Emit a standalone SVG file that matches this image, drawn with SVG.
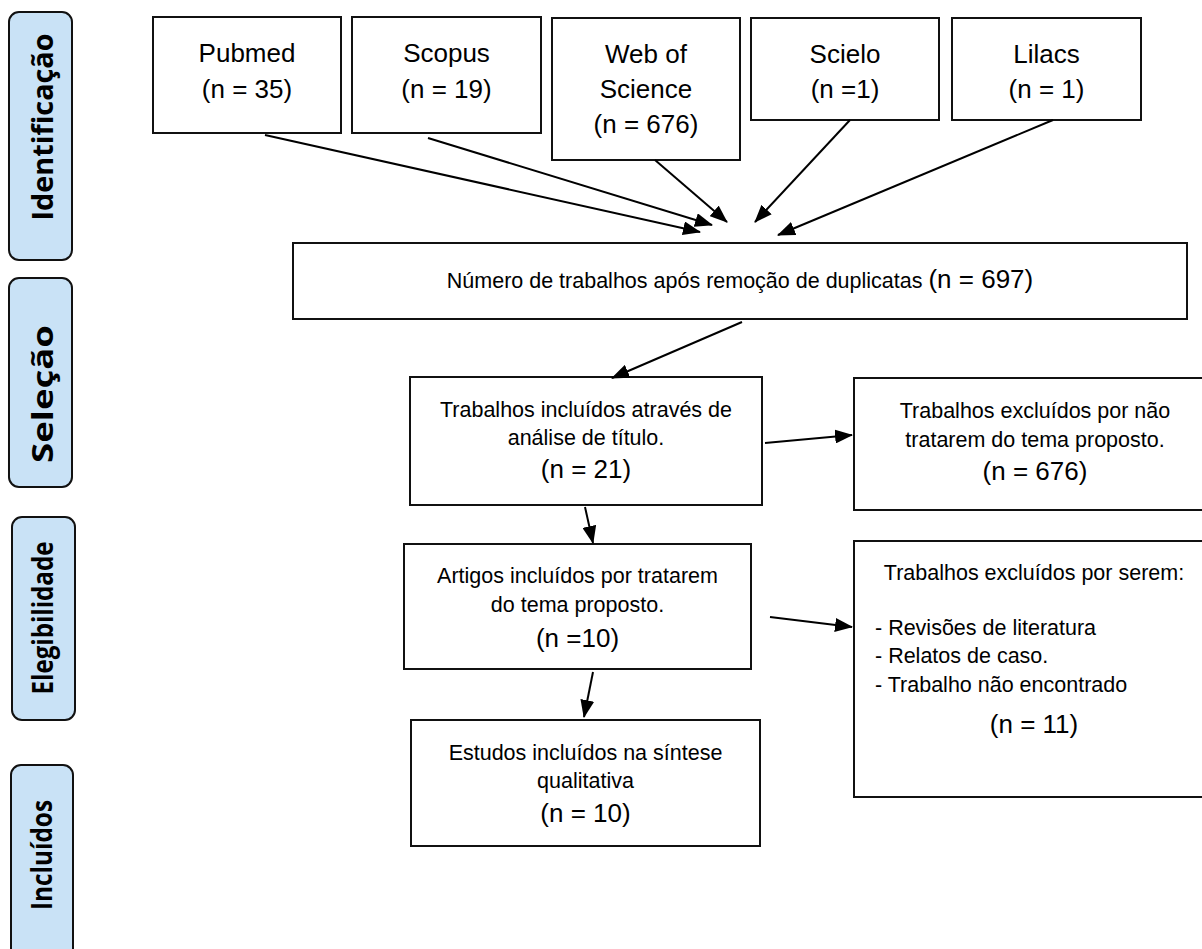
<svg xmlns="http://www.w3.org/2000/svg" width="1202" height="949" viewBox="0 0 1202 949">
  <style>
    .box { fill: #fff; stroke: #111; stroke-width: 2; }
    .phase { fill: #C9E2F6; stroke: #111; stroke-width: 2; }
    .phase-t { font-family: "Open Sans", "Noto Sans", sans-serif; font-weight: bold; font-size: 28px; fill: #000; text-anchor: middle; }
    .big { font-family: "Liberation Sans", Arial, sans-serif; font-size: 26px; fill: #000; text-anchor: middle; }
    .sm { font-family: "Liberation Sans", Arial, sans-serif; font-size: 21.5px; fill: #000; text-anchor: middle; }
    .lst { font-family: "Liberation Sans", Arial, sans-serif; font-size: 21.5px; fill: #000; }
    .conn { stroke: #000; stroke-width: 2; fill: none; marker-end: url(#ah); }
  </style>
  <defs>
    <marker id="ah" markerWidth="18" markerHeight="14" refX="17" refY="7" orient="auto" markerUnits="userSpaceOnUse">
      <path d="M0,0 L18,7 L0,14 z" fill="#000"/>
    </marker>
  </defs>
  <rect width="1202" height="949" fill="#fff"/>

  <g id="phase-identificacao">
    <rect class="phase" x="9" y="12" width="63" height="248" rx="10"/>
    <text class="phase-t" transform="translate(53,127) rotate(-90)" textLength="187" lengthAdjust="spacingAndGlyphs">Identificação</text>
  </g>
  <g id="phase-selecao">
    <rect class="phase" x="9" y="278" width="63" height="209" rx="10"/>
    <text class="phase-t" transform="translate(53,394) rotate(-90)" textLength="138" lengthAdjust="spacingAndGlyphs">Seleção</text>
  </g>
  <g id="phase-elegibilidade">
    <rect class="phase" x="12" y="517" width="63" height="203" rx="10"/>
    <text class="phase-t" transform="translate(53,618) rotate(-90)" textLength="153" lengthAdjust="spacingAndGlyphs">Elegibilidade</text>
  </g>
  <g id="phase-incluidos">
    <rect class="phase" x="11" y="765" width="62" height="200" rx="10"/>
    <text class="phase-t" transform="translate(52,855) rotate(-90)" textLength="110" lengthAdjust="spacingAndGlyphs">Incluídos</text>
  </g>

  <g id="pubmed">
    <rect class="box" x="153" y="17" width="188" height="116"/>
    <text class="big" x="247" y="62">Pubmed</text>
    <text class="big" x="247" y="98">(n = 35)</text>
  </g>
  <g id="scopus">
    <rect class="box" x="352" y="17" width="189" height="116"/>
    <text class="big" x="446.5" y="62">Scopus</text>
    <text class="big" x="446.5" y="98">(n = 19)</text>
  </g>
  <g id="wos">
    <rect class="box" x="552" y="18" width="188" height="142"/>
    <text class="big" x="646" y="63">Web of</text>
    <text class="big" x="646" y="98">Science</text>
    <text class="big" x="646" y="133">(n = 676)</text>
  </g>
  <g id="scielo">
    <rect class="box" x="751" y="18" width="188" height="102"/>
    <text class="big" x="845" y="63">Scielo</text>
    <text class="big" x="845" y="98">(n =1)</text>
  </g>
  <g id="lilacs">
    <rect class="box" x="952" y="18" width="189" height="102"/>
    <text class="big" x="1046.5" y="63">Lilacs</text>
    <text class="big" x="1046.5" y="98">(n = 1)</text>
  </g>

  <g id="duplicatas">
    <rect class="box" x="293" y="243" width="894" height="76"/>
    <text x="740" y="288" text-anchor="middle" font-family="Liberation Sans, Arial, sans-serif"><tspan font-size="21.5">Número de trabalhos após remoção de duplicatas </tspan><tspan font-size="26">(n = 697)</tspan></text>
  </g>

  <g id="titulo">
    <rect class="box" x="410" y="377" width="352" height="128"/>
    <text class="sm" x="586" y="417">Trabalhos incluídos através de</text>
    <text class="sm" x="586" y="445">análise de título.</text>
    <text class="big" x="586" y="478">(n = 21)</text>
  </g>

  <g id="excluidos-tema">
    <rect class="box" x="854" y="378" width="362" height="132"/>
    <text class="sm" x="1035" y="418">Trabalhos excluídos por não</text>
    <text class="sm" x="1035" y="447">tratarem do tema proposto.</text>
    <text class="big" x="1035" y="480">(n = 676)</text>
  </g>

  <g id="artigos">
    <rect class="box" x="404" y="544" width="347" height="125"/>
    <text class="sm" x="577.5" y="583">Artigos incluídos por tratarem</text>
    <text class="sm" x="577.5" y="612">do tema proposto.</text>
    <text class="big" x="577.5" y="647">(n =10)</text>
  </g>

  <g id="excluidos-serem">
    <rect class="box" x="854" y="541" width="362" height="256"/>
    <text class="sm" x="1034" y="580">Trabalhos excluídos por serem:</text>
    <text class="lst" x="875" y="635">- Revisões de literatura</text>
    <text class="lst" x="875" y="663">- Relatos de caso.</text>
    <text class="lst" x="875" y="692">- Trabalho não encontrado</text>
    <text class="big" x="1034" y="733">(n = 11)</text>
  </g>

  <g id="estudos">
    <rect class="box" x="411" y="720" width="349" height="126"/>
    <text class="sm" x="585.5" y="760">Estudos incluídos na síntese</text>
    <text class="sm" x="585.5" y="788">qualitativa</text>
    <text class="big" x="585.5" y="822">(n = 10)</text>
  </g>

  <g id="connectors">
    <line class="conn" x1="265" y1="135" x2="700" y2="232"/>
    <line class="conn" x1="428" y1="138" x2="712" y2="225"/>
    <line class="conn" x1="655" y1="160" x2="727" y2="222"/>
    <line class="conn" x1="850" y1="120" x2="755" y2="222"/>
    <line class="conn" x1="1053" y1="120" x2="778" y2="235"/>
    <line class="conn" x1="742" y1="322" x2="612" y2="378"/>
    <line class="conn" x1="585" y1="507" x2="593" y2="543"/>
    <line class="conn" x1="765" y1="443" x2="852" y2="435"/>
    <line class="conn" x1="770" y1="617" x2="852" y2="627"/>
    <line class="conn" x1="593" y1="672" x2="584" y2="717"/>
  </g>
</svg>
